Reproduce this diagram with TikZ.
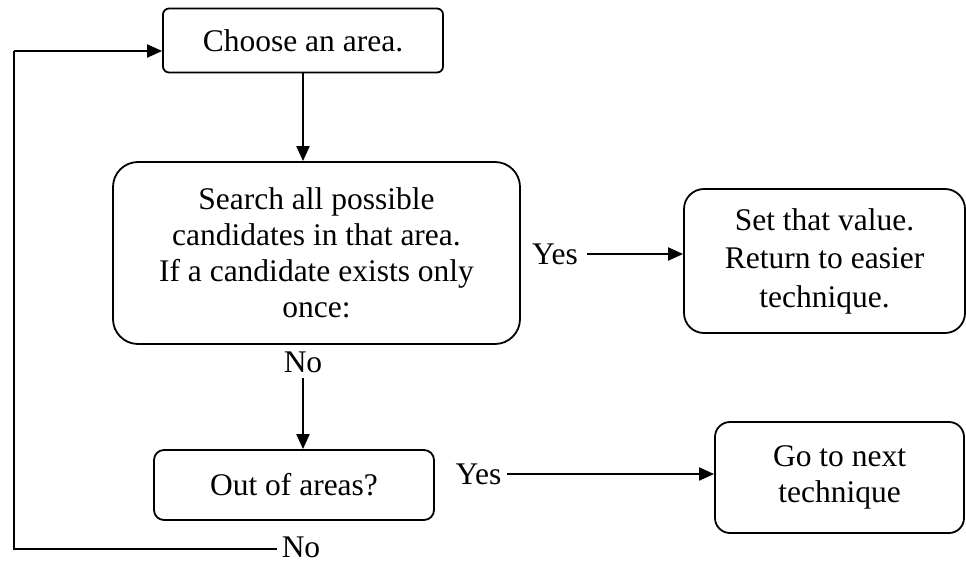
\documentclass[tikz,border=0pt]{standalone}
\usepackage{fontspec}
\setmainfont{Liberation Serif}
\usetikzlibrary{arrows.meta}
\begin{document}
\begin{tikzpicture}[x=1pt,y=1pt,
  every node/.style={font=\fontsize{31.5}{36}\selectfont},
  flowbox/.style={draw,line width=1.8pt,align=center,inner sep=0pt},
  lbl/.style={inner sep=5pt},
  conn/.style={line width=2pt},
  arr/.style={conn,-{Triangle[length=15pt,width=13pt]}}]
\useasboundingbox (0,0) rectangle (966,-562);
% boxes
\node[flowbox,rounded corners=6pt,minimum width=280pt,minimum height=64pt] (choose) at (303,-40.5) {Choose an area.};
\node[flowbox,rounded corners=25pt,minimum width=407pt,minimum height=182pt] (search) at (316.5,-253)
  {Search all possible\\candidates in that area.\\If a candidate exists only\\once:};
\node[flowbox,rounded corners=20pt,minimum width=281pt,minimum height=144pt,
      font=\fontsize{31.5}{38.5}\selectfont] (setval) at (824.5,-261)
  {Set that value.\\Return to easier\\technique.};
\node[flowbox,rounded corners=10pt,minimum width=280pt,minimum height=70pt] (out) at (294,-485) {Out of areas?};
\node[flowbox,rounded corners=15pt,minimum width=249pt,minimum height=111pt] (next) at (839.5,-477.5)
  {Go to next\\technique};
% labels
\node[lbl,inner xsep=9pt] (yes1) at (555,-254) {Yes};
\node[lbl] (no1) at (303,-362) {No};
\node[lbl,inner xsep=5.5pt] (yes2) at (478.5,-474) {Yes};
\node[lbl,inner ysep=0pt] (no2) at (301,-547.5) {No};
% loop corners
\coordinate (lc1) at (14,-549);
\coordinate (lc2) at (14,-51);
% connectors
\draw[arr] (choose.south -| 303,0) -- (303,0 |- search.north);
\draw[arr] (yes1.east) -- (yes1.east -| setval.west);
\draw[arr] (no1.south) -- (no1.south |- out.north);
\draw[arr] (yes2.east) -- (yes2.east -| next.west);
\draw[conn] (no2.west |- lc1) -- (lc1) -- (lc2);
\draw[arr] (lc2) -- (lc2 -| choose.west);
\end{tikzpicture}
\end{document}
